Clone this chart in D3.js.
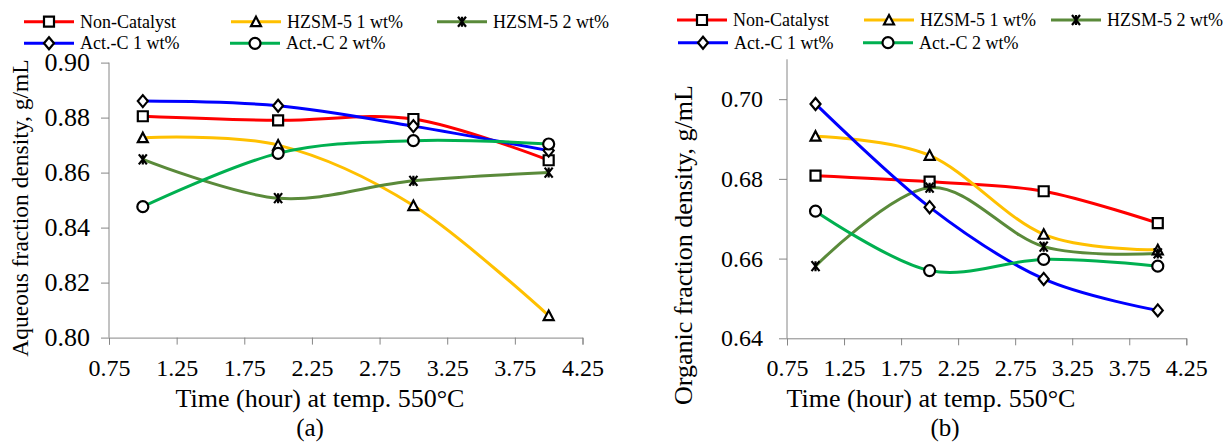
<!DOCTYPE html>
<html>
<head>
<meta charset="utf-8">
<script src="https://cdn.jsdelivr.net/npm/d3@7"></script>
<style>
  body { margin: 0; background: #fff; }
  svg { display: block; }
  text { font-family: "Liberation Serif", "Times New Roman", serif; }
  .axis path, .axis line { stroke: #868686; }
  .axis text { fill: #000; }
</style>
</head>
<body>
<div id="chart-container"></div>
<script>
// shared x values and tick labels
var hours = [1, 2, 3, 4]
var xTicks = [0.75, 1.25, 1.75, 2.25, 2.75, 3.25, 3.75, 4.25]

var seriesNames = ['Non-Catalyst', 'HZSM-5 1 wt%', 'HZSM-5 2 wt%', 'Act.-C 1 wt%', 'Act.-C 2 wt%']

// (a) aqueous fraction density, g/mL
var aqNonCatalyst = [0.8805, 0.879, 0.8795, 0.8645]
var aqHzsm1 = [0.8727, 0.870, 0.848, 0.808]
var aqHzsm2 = [0.8648, 0.8507, 0.857, 0.860]
var aqActC1 = [0.886, 0.8843, 0.8769, 0.868]
var aqActC2 = [0.8476, 0.867, 0.8716, 0.8704]
var aqYTicks = [0.80, 0.82, 0.84, 0.86, 0.88, 0.90]

// (b) organic fraction density, g/mL
var orgNonCatalyst = [0.6808, 0.6793, 0.6769, 0.6689]
var orgHzsm1 = [0.6907, 0.6859, 0.6661, 0.6622]
var orgHzsm2 = [0.6581, 0.6778, 0.663, 0.6613]
var orgActC1 = [0.6988, 0.6729, 0.6549, 0.647]
var orgActC2 = [0.6719, 0.657, 0.6598, 0.6581]
var orgYTicks = [0.64, 0.66, 0.68, 0.70]

var color = ['#ff0000', '#ffc000', '#5a8a3a', '#0000ff', '#00b050']
var marker = ['square', 'triangle', 'star', 'diamond', 'circle']
var serif = '"Liberation Serif", "Times New Roman", serif'

var width = 1226
var height = 447
var svg = d3.select("#chart-container").append("svg").attr('width', width).attr('height', height)

function drawMarker(g, type, x, y) {
  var m
  if (type == 'circle') {
    m = g.append('circle').attr('cx', x).attr('cy', y).attr('r', 5.5)
  } else {
    var p = {
      square: 'M-5,-5h10v10h-10z',
      triangle: 'M0,-5L5,4.5L-5,4.5Z',
      diamond: 'M0,-6L5,0L0,6L-5,0Z',
      star: 'M-4,-5L4,5M4,-5L-4,5M0,-5V5'
    }[type]
    m = g.append('path').attr('d', p).attr('transform', 'translate(' + x + ',' + y + ')')
  }
  m.attr('fill', type == 'star' ? 'none' : '#fff').attr('stroke', '#000').attr('stroke-width', 2.2)
}

function drawChart(o) {
  var x = d3.scaleLinear().domain([0.75, 4.25]).range([o.left, o.right])
  var y = d3.scaleLinear().domain(o.yDomain).range([o.bottom, o.top])

  var xAxis = svg.append('g').attr('class', 'axis').attr('transform', 'translate(0,' + o.bottom + ')')
    .call(d3.axisBottom(x).tickValues(xTicks).tickFormat(d3.format('.2f')).tickSize(7).tickSizeOuter(7).tickPadding(14))
  xAxis.attr('font-family', null)
  xAxis.selectAll('text').style('font-size', '24px').style('font-family', serif)

  var yAxis = svg.append('g').attr('class', 'axis').attr('transform', 'translate(' + o.left + ',0)')
    .call(d3.axisLeft(y).tickValues(o.yTicks).tickFormat(d3.format('.2f')).tickSize(8).tickSizeOuter(0).tickPadding(o.yPad))
  yAxis.attr('font-family', null)
  yAxis.selectAll('text').style('font-size', o.yFont + 'px').style('font-family', serif)
  yAxis.select('.domain').attr('d', 'M0,' + o.bottom + 'V' + y(o.yDomain[1]))

  var line = d3.line()
    .x(function(d, i) { return x(hours[i]) })
    .y(function(d) { return y(d) })
    .curve(d3.curveCardinal.tension(0))

  o.series.forEach(function(s, idx) {
    svg.append('path').datum(s).attr('fill', 'none').attr('stroke', color[idx]).attr('stroke-width', 3).attr('d', line)
  })
  o.series.forEach(function(s, idx) {
    var g = svg.append('g')
    s.forEach(function(v, i) { drawMarker(g, marker[idx], x(hours[i]), y(v)) })
  })

  // y title
  svg.append('text').attr('transform', 'translate(' + o.yTitleX + ',' + o.yTitleY + ') rotate(-90)')
    .attr('text-anchor', 'middle').style('font-size', o.yTitleFont + 'px').text(o.yTitle)
  // x title and panel label
  svg.append('text').attr('x', o.xTitleX).attr('y', 407).attr('text-anchor', 'middle').style('font-size', '26px').text('Time (hour) at temp. 550°C')
  svg.append('text').attr('x', o.panelX).attr('y', 436).attr('text-anchor', 'middle').style('font-size', '25px').text(o.panel)

  // legend
  o.legend.forEach(function(l, idx) {
    var g = svg.append('g')
    g.append('line').attr('x1', l[0]).attr('x2', l[0] + 50).attr('y1', l[1]).attr('y2', l[1]).attr('stroke', color[idx]).attr('stroke-width', 3)
    drawMarker(g, marker[idx], l[0] + 25, l[1])
    g.append('text').attr('x', l[0] + 56).attr('y', l[1]).attr('dy', '0.33em').style('font-size', '18px').text(seriesNames[idx])
  })
}

drawChart({
  left: 109, right: 582.5, top: 62.6, bottom: 337.6,
  yDomain: [0.80, 0.90], yTicks: aqYTicks, yPad: 11, yFont: 26,
  series: [aqNonCatalyst, aqHzsm1, aqHzsm2, aqActC1, aqActC2],
  yTitle: 'Aqueous fraction density, g/mL', yTitleX: 28, yTitleY: 208, yTitleFont: 23.5,
  xTitleX: 320, panelX: 310, panel: '(a)',
  legend: [[24, 21.7], [231, 21.7], [437, 21.7], [24, 43.3], [230, 43.3]]
})

drawChart({
  left: 787, right: 1186.3, top: 59.3, bottom: 338.3,
  yDomain: [0.64, 0.71], yTicks: orgYTicks, yPad: 16, yFont: 24,
  series: [orgNonCatalyst, orgHzsm1, orgHzsm2, orgActC1, orgActC2],
  yTitle: 'Organic fraction density, g/mL', yTitleX: 692, yTitleY: 245, yTitleFont: 26,
  xTitleX: 931, panelX: 945, panel: '(b)',
  legend: [[677, 20], [864, 20], [1051, 20], [678, 42.7], [863, 42.7]]
})
</script>
</body>
</html>
